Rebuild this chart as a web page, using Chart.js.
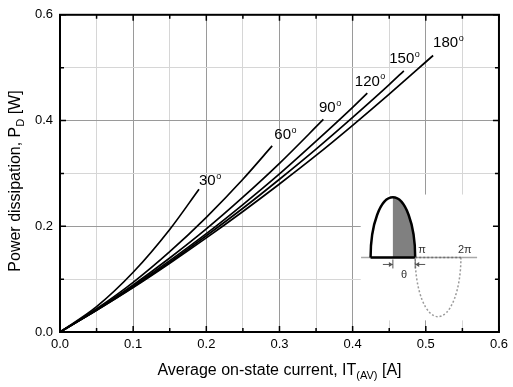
<!DOCTYPE html>
<html>
<head>
<meta charset="utf-8">
<script src="https://cdn.jsdelivr.net/npm/chart.js@4.4.0/dist/chart.umd.min.js"></script>
<style>
  html, body { margin: 0; padding: 0; background: #fff; }
  canvas { display: block; }
</style>
</head>
<body>
<canvas id="pdChart" width="513" height="387"></canvas>
<script>
// conduction angle curves
const angleLabels = ['30', '60', '90', '120', '150', '180'];

const current30 = [0, 0.05, 0.1, 0.15, 0.19];
const power30 = [0, 0.048, 0.113, 0.194, 0.270];

const current60 = [0, 0.05, 0.1, 0.15, 0.2, 0.25, 0.29];
const power60 = [0, 0.044, 0.094, 0.152, 0.217, 0.289, 0.352];

const current90 = [0, 0.05, 0.1, 0.15, 0.2, 0.25, 0.3, 0.36];
const power90 = [0, 0.042, 0.089, 0.140, 0.195, 0.255, 0.319, 0.402];

const current120 = [0, 0.05, 0.1, 0.15, 0.2, 0.25, 0.3, 0.35, 0.4, 0.42];
const power120 = [0, 0.042, 0.087, 0.135, 0.186, 0.241, 0.299, 0.361, 0.425, 0.452];

const current150 = [0, 0.05, 0.1, 0.15, 0.2, 0.25, 0.3, 0.35, 0.4, 0.45, 0.47];
const power150 = [0, 0.041, 0.085, 0.132, 0.182, 0.234, 0.289, 0.346, 0.406, 0.468, 0.494];

const current180 = [0, 0.05, 0.1, 0.15, 0.2, 0.25, 0.3, 0.35, 0.4, 0.45, 0.51];
const power180 = [0, 0.041, 0.084, 0.130, 0.178, 0.228, 0.280, 0.334, 0.391, 0.450, 0.523];

// axis ticks
const xTickValues = [0, 0.1, 0.2, 0.3, 0.4, 0.5, 0.6];
const xTickLabels = ['0.0', '0.1', '0.2', '0.3', '0.4', '0.5', '0.6'];
const xMinorValues = [0.05, 0.15, 0.25, 0.35, 0.45, 0.55];
const yTickValues = [0, 0.2, 0.4, 0.6];
const yTickLabels = ['0.0', '0.2', '0.4', '0.6'];
const yMinorValues = [0.1, 0.3, 0.5];

// where the angle labels sit (data units, left/baseline of the text)
const labelX = [0.190, 0.293, 0.354, 0.403, 0.450, 0.510];
const labelY = [0.278, 0.365, 0.416, 0.466, 0.508, 0.539];

const fontFamily = '"Liberation Sans", Arial, Helvetica, sans-serif';

const allCurrents = [current30, current60, current90, current120, current150, current180];
const allPowers = [power30, power60, power90, power120, power150, power180];

const datasets = allCurrents.map((cur, i) => ({
    label: angleLabels[i] + '°',
    data: cur.map((c, j) => ({ x: c, y: allPowers[i][j] })),
    borderColor: '#000',
    borderWidth: 1.7,
    pointRadius: 0,
    cubicInterpolationMode: 'monotone',
    fill: false
}));

const isIn = (list, v) => list.some(t => Math.abs(t - v) < 1e-6);

function drawSub(ctx, parts, x, y, align) {
    // parts: [text, size, dy]
    let total = 0;
    parts.forEach(p => { ctx.font = p[1] + 'px ' + fontFamily; total += ctx.measureText(p[0]).width; });
    let cx = align === 'center' ? x - total / 2 : x;
    ctx.textAlign = 'left';
    ctx.textBaseline = 'alphabetic';
    parts.forEach(p => {
        ctx.font = p[1] + 'px ' + fontFamily;
        ctx.fillText(p[0], cx, y + p[2]);
        cx += ctx.measureText(p[0]).width;
    });
}

const decorations = {
    id: 'decorations',
    beforeDatasetsDraw(chart) {
        const { ctx, scales: { x, y } } = chart;
        // white patch behind the waveform sketch
        const l = x.getPixelForValue(0.411), r = x.getPixelForValue(0.594);
        const t = y.getPixelForValue(0.26), b = y.getPixelForValue(0.022);
        ctx.save();
        ctx.fillStyle = '#fff';
        ctx.fillRect(l, t, r - l, b - t);
        ctx.restore();
    },
    afterDraw(chart) {
        const { ctx, chartArea: a, scales: { x, y } } = chart;
        ctx.save();

        // frame
        ctx.strokeStyle = '#000';
        ctx.lineWidth = 2;
        ctx.strokeRect(a.left, a.top, a.right - a.left, a.bottom - a.top);

        // inward ticks on all four sides
        ctx.lineWidth = 1.5;
        const xTicksAll = xTickValues.concat(xMinorValues);
        xTicksAll.forEach(v => {
            const px = x.getPixelForValue(v);
            const len = isIn(xTickValues, v) ? 6 : 4;
            ctx.beginPath();
            ctx.moveTo(px, a.bottom); ctx.lineTo(px, a.bottom - len);
            ctx.moveTo(px, a.top); ctx.lineTo(px, a.top + len);
            ctx.stroke();
        });
        const yTicksAll = yTickValues.concat(yMinorValues);
        yTicksAll.forEach(v => {
            const py = y.getPixelForValue(v);
            const len = isIn(yTickValues, v) ? 6 : 4;
            ctx.beginPath();
            ctx.moveTo(a.left, py); ctx.lineTo(a.left + len, py);
            ctx.moveTo(a.right, py); ctx.lineTo(a.right - len, py);
            ctx.stroke();
        });

        // angle labels
        ctx.fillStyle = '#000';
        ctx.textAlign = 'left';
        ctx.textBaseline = 'alphabetic';
        angleLabels.forEach((lab, i) => {
            const px = x.getPixelForValue(labelX[i]);
            const py = y.getPixelForValue(labelY[i]);
            ctx.font = '15px ' + fontFamily;
            ctx.fillText(lab, px, py);
            const w = ctx.measureText(lab).width;
            ctx.font = '9px ' + fontFamily;
            ctx.fillText('o', px + w + 0.5, py - 6.5);
        });

        // axis titles
        drawSub(ctx, [['Average on-state current, IT', 16, 0], ['(AV)', 11, 4], [' [A]', 16, 0]],
            (a.left + a.right) / 2, 375, 'center');
        ctx.save();
        ctx.translate(20, 181);
        ctx.rotate(-Math.PI / 2);
        drawSub(ctx, [['Power dissipation, P', 16, 0], ['D', 11, 4], [' [W]', 16, 0]], 0, 0, 'center');
        ctx.restore();

        // waveform sketch
        const baseY = y.getPixelForValue(0.141);
        const xL = x.getPixelForValue(0.4245);
        const xR = x.getPixelForValue(0.4855);
        const x2pi = x.getPixelForValue(0.548);
        const peakY = y.getPixelForValue(0.2547);
        const lowY = y.getPixelForValue(0.029);
        const xc = (xL + xR) / 2;
        const rx = (xR - xL) / 2, ry = baseY - peakY;

        ctx.strokeStyle = '#a8a8a8';
        ctx.lineWidth = 1.5;
        ctx.beginPath();
        ctx.moveTo(x.getPixelForValue(0.4115), baseY);
        ctx.lineTo(x.getPixelForValue(0.5701), baseY);
        ctx.stroke();

        // shaded conduction part
        ctx.fillStyle = '#808080';
        ctx.beginPath();
        ctx.moveTo(xc, baseY);
        ctx.lineTo(xc, peakY);
        ctx.ellipse(xc, baseY, rx, ry, 0, -Math.PI / 2, 0);
        ctx.closePath();
        ctx.fill();

        ctx.strokeStyle = '#000';
        ctx.lineWidth = 2.5;
        ctx.beginPath();
        ctx.ellipse(xc, baseY, rx, ry, 0, Math.PI, 2 * Math.PI);
        ctx.stroke();
        ctx.beginPath();
        ctx.moveTo(xL, baseY); ctx.lineTo(xR, baseY);
        ctx.stroke();

        // negative half, dotted
        ctx.setLineDash([2, 2]);
        ctx.strokeStyle = '#9a9a9a';
        ctx.lineWidth = 1.5;
        ctx.beginPath();
        ctx.ellipse((xR + x2pi) / 2, baseY, (x2pi - xR) / 2, lowY - baseY, 0, 0, Math.PI);
        ctx.stroke();
        ctx.strokeStyle = '#707070';
        ctx.beginPath();
        ctx.moveTo(xR, baseY); ctx.lineTo(x2pi, baseY);
        ctx.stroke();
        ctx.setLineDash([]);

        // theta arrows
        const ay = baseY + 7;
        ctx.strokeStyle = '#555';
        ctx.fillStyle = '#555';
        ctx.lineWidth = 1;
        ctx.beginPath();
        ctx.moveTo(xc - 10, ay); ctx.lineTo(xc, ay);
        ctx.moveTo(xR + 10, ay); ctx.lineTo(xR, ay);
        ctx.moveTo(xc, baseY + 2); ctx.lineTo(xc, baseY + 11);
        ctx.moveTo(xR, baseY + 2); ctx.lineTo(xR, baseY + 11);
        ctx.stroke();
        ctx.beginPath();
        ctx.moveTo(xc, ay); ctx.lineTo(xc - 4, ay - 2.5); ctx.lineTo(xc - 4, ay + 2.5); ctx.closePath();
        ctx.moveTo(xR, ay); ctx.lineTo(xR + 4, ay - 2.5); ctx.lineTo(xR + 4, ay + 2.5); ctx.closePath();
        ctx.fill();

        ctx.fillStyle = '#333';
        ctx.font = '11px ' + fontFamily;
        ctx.textAlign = 'left';
        ctx.textBaseline = 'alphabetic';
        ctx.fillText('π', xR + 3, baseY - 4.5);
        ctx.fillText('2π', x2pi - 3, baseY - 4.5);
        ctx.textAlign = 'center';
        ctx.fillText('θ', (xc + xR) / 2, baseY + 20.5);

        ctx.restore();
    }
};

new Chart(document.getElementById('pdChart').getContext('2d'), {
    type: 'line',
    data: { datasets: datasets },
    options: {
        responsive: false,
        animation: false,
        layout: { padding: { left: 0, top: 10, right: 11, bottom: 0 } },
        plugins: { legend: { display: false }, tooltip: { enabled: false } },
        scales: {
            x: {
                type: 'linear',
                min: 0,
                max: 0.6,
                afterBuildTicks: s => { s.ticks = xTickValues.concat(xMinorValues).sort((p, q) => p - q).map(v => ({ value: v })); },
                afterFit: s => { s.height = 55; },
                border: { display: false },
                grid: {
                    drawTicks: false,
                    color: c => (c.tick && isIn(xTickValues, c.tick.value)) ? '#9a9a9a' : '#d6d6d6',
                    lineWidth: 1
                },
                ticks: {
                    autoSkip: false,
                    maxRotation: 0,
                    padding: 5,
                    color: '#000',
                    font: { family: fontFamily, size: 13 },
                    callback: v => {
                        const i = xTickValues.findIndex(t => Math.abs(t - v) < 1e-6);
                        return i >= 0 ? xTickLabels[i] : '';
                    }
                }
            },
            y: {
                type: 'linear',
                min: 0,
                max: 0.6,
                afterBuildTicks: s => { s.ticks = yTickValues.concat(yMinorValues).sort((p, q) => p - q).map(v => ({ value: v })); },
                afterFit: s => { s.width = 60; },
                border: { display: false },
                grid: {
                    drawTicks: false,
                    color: c => (c.tick && isIn(yTickValues, c.tick.value)) ? '#9a9a9a' : '#d6d6d6',
                    lineWidth: 1
                },
                ticks: {
                    autoSkip: false,
                    padding: 7,
                    color: '#000',
                    font: { family: fontFamily, size: 13 },
                    callback: v => {
                        const i = yTickValues.findIndex(t => Math.abs(t - v) < 1e-6);
                        return i >= 0 ? yTickLabels[i] : '';
                    }
                }
            }
        }
    },
    plugins: [decorations]
});
</script>
</body>
</html>
